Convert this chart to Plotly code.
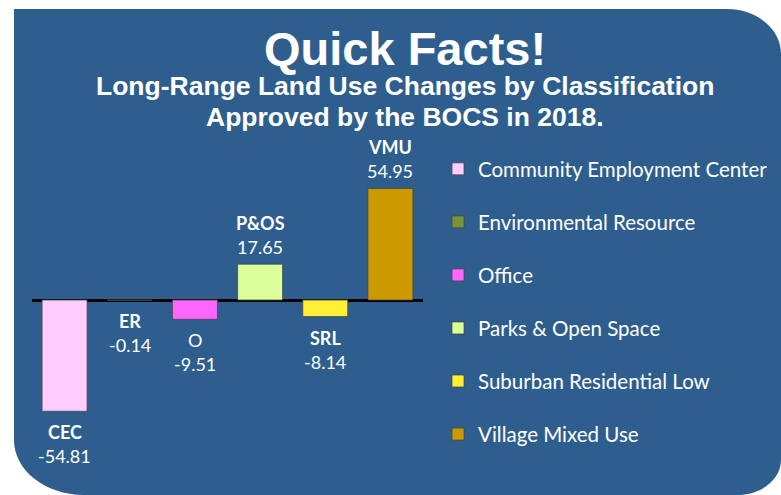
import plotly.graph_objects as go

# ---- data ----
codes = ["CEC", "ER", "O", "P&OS", "SRL", "VMU"]
names = ["Community Employment Center", "Environmental Resource", "Office",
         "Parks & Open Space", "Suburban Residential Low", "Village Mixed Use"]
values = [-54.81, -0.14, -9.51, 17.65, -8.14, 54.95]
colors = ["#FFCCFF", "#77933C", "#FF66FF", "#DDFF99", "#FFEE33", "#CC9900"]
code_bold = [True, True, False, True, True, True]

W, H = 781, 495
L, R, T, B = 32, 358, 140, 25
PW, PH = W - L - R, H - T - B
BG = "#2E5E8E"
LABEL_FONT = "Lato, 'Open Sans', sans-serif"
TITLE_FONT = "'Liberation Sans', Arial, sans-serif"


def px(xp):
    return (xp - L) / PW


def py(yp):
    return (H - B - yp) / PH


fig = go.Figure()
for i, (c, n, v, col) in enumerate(zip(codes, names, values, colors)):
    fig.add_trace(go.Bar(
        x=[i], y=[v], name=n, legendgroup=n,
        width=0.69,
        marker=dict(color=col, line=dict(color="rgba(70,70,70,0.75)", width=1)),
        hoverinfo="skip",
    ))

annotations = []
for i, (c, v, bld) in enumerate(zip(codes, values, code_bold)):
    if v >= 0:
        s_name, s_val = 41, 17
    else:
        s_name, s_val = -21, -45
    annotations.append(dict(x=i, y=v, xref="x", yref="y",
                            text=("<b>%s</b>" % c) if bld else c,
                            showarrow=False, yshift=s_name, yanchor="middle",
                            xanchor="center",
                            font=dict(family=LABEL_FONT, size=18, color="white")))
    annotations.append(dict(x=i, y=v, xref="x", yref="y", text="%.2f" % v,
                            showarrow=False, yshift=s_val, yanchor="middle",
                            xanchor="center",
                            font=dict(family=LABEL_FONT, size=18, color="white")))

# titles
annotations.append(dict(x=px(405), y=py(48), xref="paper", yref="paper",
                        text="<b>Quick Facts!</b>", showarrow=False,
                        xanchor="center", yanchor="middle",
                        font=dict(family=TITLE_FONT, size=47, color="white")))
annotations.append(dict(x=px(405), y=py(86), xref="paper", yref="paper",
                        text="<b>Long-Range Land Use Changes by Classification</b>",
                        showarrow=False, xanchor="center", yanchor="middle",
                        font=dict(family=TITLE_FONT, size=26.5, color="white")))
annotations.append(dict(x=px(405), y=py(117), xref="paper", yref="paper",
                        text="<b>Approved by the BOCS in 2018.</b>",
                        showarrow=False, xanchor="center", yanchor="middle",
                        font=dict(family=TITLE_FONT, size=26.5, color="white")))

# rounded background panel (pixel coords -> paper)
k = 0.5523


def P(x, y):
    return "%.5f,%.5f" % (px(x), py(y))


path = ("M" + P(14, 9) + " L" + P(727, 9) +
        " C" + P(727 + k * 54, 9) + " " + P(781, 54 - k * 45) + " " + P(781, 54) +
        " L" + P(781, 460) +
        " C" + P(781, 460 + k * 35) + " " + P(737 + k * 44, 495) + " " + P(737, 495) +
        " L" + P(84, 495) +
        " C" + P(84 - k * 70, 495) + " " + P(14, 440 + k * 55) + " " + P(14, 440) +
        " Z")

fig.update_layout(
    width=W, height=H,
    margin=dict(l=L, r=R, t=T, b=B, pad=0, autoexpand=False),
    paper_bgcolor="white",
    plot_bgcolor="rgba(0,0,0,0)",
    barmode="relative",
    showlegend=True,
    legend=dict(x=px(438), y=py(149), xanchor="left", yanchor="top",
                bgcolor="rgba(0,0,0,0)", tracegroupgap=23.4,
                font=dict(family=LABEL_FONT, size=20.5, color="white")),
    xaxis=dict(range=[-0.5, 5.5], showticklabels=False, showgrid=False,
               zeroline=False, showline=False, fixedrange=True),
    yaxis=dict(range=[-83.74, 78.82], showticklabels=False, showgrid=False,
               zeroline=True, zerolinecolor="black", zerolinewidth=3,
               showline=False, fixedrange=True),
    shapes=[dict(type="path", path=path, xref="paper", yref="paper",
                 fillcolor=BG, line=dict(width=0), layer="below")],
    annotations=annotations,
)

fig.write_html("out.html", config={"displayModeBar": False},
               post_script="document.body.style.margin='0';")
